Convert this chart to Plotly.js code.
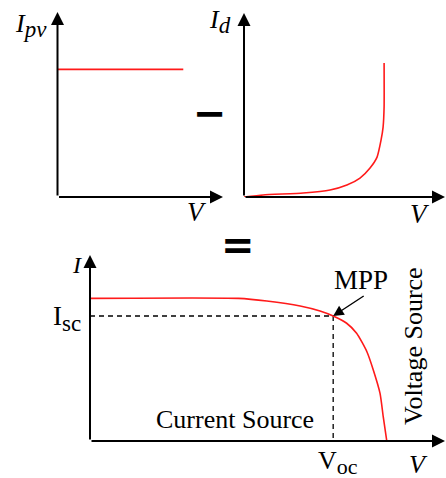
<!DOCTYPE html>
<html>
<head>
<meta charset="utf-8">
<script src="https://cdn.plot.ly/plotly-3.0.1.min.js"></script>
<style>
  html, body { margin: 0; padding: 0; background: #ffffff; }
  #chart { width: 446px; height: 478px; }
</style>
</head>
<body>
<div id="chart"></div>
<script>
// Photovoltaic current: constant source current Ipv
const vPv = [0, 7.6];
const iPv = [6.9, 6.9];

// Diode current Id rising exponentially with voltage
const vDiode = [0, 0.95, 2.94, 4.28, 5.12, 5.77, 6.27, 6.62, 6.82, 6.92, 6.97, 6.97];
const iDiode = [0, 0.11, 0.22, 0.38, 0.65, 1.03, 1.58, 2.17, 3.10, 3.80, 4.89, 7.28];

// Resulting cell I-V characteristic
const vCell = [0, 4.18, 4.98, 5.92, 6.48, 6.85, 7.23, 7.51, 7.80, 7.98, 8.17, 8.26, 8.36];
const iCell = [7.67, 7.67, 7.53, 7.26, 6.99, 6.72, 6.33, 5.79, 4.80, 3.82, 2.56, 1.31, 0];

// Maximum power point
const vMpp = 6.85;
const iMpp = 6.72;

const W = 446, H = 478;
const px = x => x / W;
const py = y => 1 - y / H;

const RED = '#ff1a1a';
const SERIF = 'Liberation Serif, Times New Roman, serif';

// subscript kept close to the size of the main letter
const sub = (s, size) => '<sub><span style="font-size:' + size + 'px">' + s + '</span></sub>';

const traces = [
  { x: vPv, y: iPv, xaxis: 'x', yaxis: 'y', mode: 'lines',
    line: { color: RED, width: 1.6 }, hoverinfo: 'skip' },
  { x: vDiode, y: iDiode, xaxis: 'x2', yaxis: 'y2', mode: 'lines',
    line: { color: RED, width: 1.6, shape: 'spline', smoothing: 0.5 }, hoverinfo: 'skip' },
  { x: [0, vMpp], y: [iMpp, iMpp], xaxis: 'x3', yaxis: 'y3', mode: 'lines',
    line: { color: '#000', width: 1.3, dash: '5px,4px' }, hoverinfo: 'skip' },
  { x: [vMpp, vMpp], y: [iMpp, 0], xaxis: 'x3', yaxis: 'y3', mode: 'lines',
    line: { color: '#000', width: 1.3, dash: '5px,4px' }, hoverinfo: 'skip' },
  { x: vCell, y: iCell, xaxis: 'x3', yaxis: 'y3', mode: 'lines',
    line: { color: RED, width: 1.6, shape: 'spline', smoothing: 0.6 }, hoverinfo: 'skip' }
];

function hiddenAxis(domain, anchor) {
  return { domain: domain, anchor: anchor, range: [0, 10], showgrid: false, zeroline: false,
           showline: false, showticklabels: false, ticks: '', fixedrange: true };
}

// axis arrows drawn from origin to tip in each panel
function axisArrows(xa, ya) {
  const common = { xref: xa, yref: ya, axref: xa, ayref: ya, text: '', showarrow: true,
                   arrowhead: 2, arrowsize: 1.3, arrowwidth: 2, arrowcolor: '#000', standoff: 0 };
  return [
    Object.assign({}, common, { x: 10, y: 0, ax: 0, ay: 0 }),
    Object.assign({}, common, { x: 0, y: 10, ax: 0, ay: 0 })
  ];
}

function label(text, x, y, size, opts) {
  return Object.assign({ xref: 'paper', yref: 'paper', x: px(x), y: py(y), text: text,
    showarrow: false, xanchor: 'center', yanchor: 'middle',
    font: { family: SERIF, size: size, color: '#000' } }, opts || {});
}

const annotations = [].concat(
  axisArrows('x', 'y'),
  axisArrows('x2', 'y2'),
  axisArrows('x3', 'y3'),
  [
    label('<i>I' + sub('pv', 23) + '</i>', 31, 26, 26),
    label('<i>I' + sub('d', 23) + '</i>', 220, 22, 26),
    label('<i>V</i>', 197, 212, 27),
    label('<i>V</i>', 420, 214, 27),
    label('<i>V</i>', 418, 464, 26),
    label('<i>I</i>', 77, 265, 24),
    label('I' + sub('sc', 23), 67, 318, 27),
    label('V' + sub('oc', 22), 338, 462, 26),
    label('MPP', 361, 280, 27),
    label('Current Source', 235, 419, 26),
    label('Voltage Source', 413, 346, 26, { textangle: -90 }),
    label('<b>−</b>', 210, 113, 40, { font: { family: 'DejaVu Sans', size: 40, color: '#000' } }),
    label('<b>=</b>', 238, 245, 40, { font: { family: 'DejaVu Sans', size: 40, color: '#000' } }),
    // pointer to the maximum power point
    { xref: 'x3', yref: 'y3', x: vMpp, y: iMpp, ax: 32, ay: -21, text: '', showarrow: true,
      arrowhead: 2, arrowsize: 1.5, arrowwidth: 1.4, arrowcolor: '#000', standoff: 0 }
  ]
);

const layout = {
  width: W, height: H,
  margin: { l: 0, r: 0, t: 0, b: 0 },
  paper_bgcolor: '#ffffff', plot_bgcolor: 'rgba(0,0,0,0)',
  showlegend: false,
  xaxis: hiddenAxis([px(57.5), px(223)], 'y'),
  yaxis: hiddenAxis([py(197), py(12)], 'x'),
  xaxis2: hiddenAxis([px(244), px(445)], 'y2'),
  yaxis2: hiddenAxis([py(197), py(13)], 'x2'),
  xaxis3: hiddenAxis([px(90), px(445)], 'y3'),
  yaxis3: hiddenAxis([py(441), py(255)], 'x3'),
  annotations: annotations
};

Plotly.newPlot('chart', traces, layout, { displayModeBar: false, staticPlot: true });
</script>
</body>
</html>
